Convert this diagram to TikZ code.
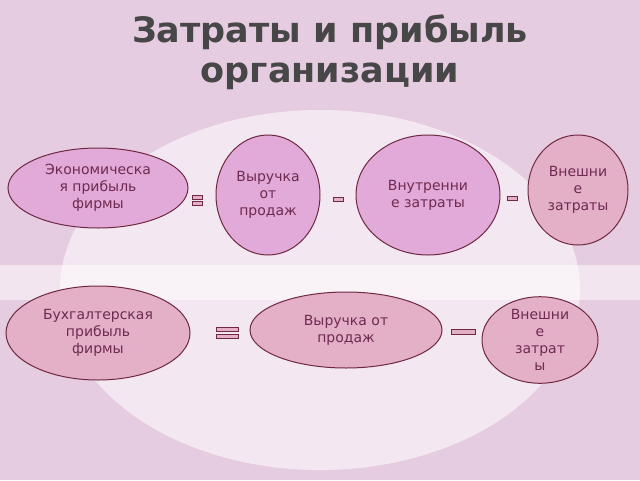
\documentclass[tikz,border=0pt]{standalone}
\usepackage{fontspec}
\setmainfont{DejaVu Sans}
\definecolor{bgpink}{HTML}{E6CCE0}
\definecolor{violetfill}{HTML}{E2AAD8}
\definecolor{rosefill}{HTML}{E4B0C8}
\definecolor{rimcol}{HTML}{6E2840}
\definecolor{txtcol}{HTML}{6E2A50}
\tikzset{
  blob/.style={ellipse, draw=rimcol, line width=1pt, text=txtcol, align=center,
    inner sep=0pt, font=\fontsize{14}{17}\selectfont},
  opbar/.style={draw=rimcol, fill=rosefill, line width=0.8pt}
}
\usetikzlibrary{shapes.geometric}
\begin{document}
\begin{tikzpicture}[x=1pt,y=-1pt]
% background
\fill[bgpink] (0,0) rectangle (640,480);
\fill[white,opacity=0.55] (320,290) ellipse (260 and 180);
\fill[white,opacity=0.5] (0,265) rectangle (640,300);
\useasboundingbox (0,0) rectangle (640,480);
% title
\node[font=\bfseries\fontsize{35}{40}\selectfont, text=black!72, align=center] (title) at (330,52)
  {Затраты и прибыль\\организации};
% top row
\node[blob, fill=violetfill, minimum width=180, minimum height=80] (eco) at (98,188) {Экономическа\\я прибыль\\фирмы};
\node[blob, fill=violetfill, minimum width=104, minimum height=120] (rev) at (268,195) {Выручка\\от\\продаж};
\node[blob, fill=violetfill, minimum width=144, minimum height=120] (inner) at (428,195) {Внутренни\\е затраты};
\node[blob, fill=rosefill, minimum width=100, minimum height=110] (outer) at (578,190) {Внешни\\е\\затраты};
% bottom row
\node[blob, fill=rosefill, minimum width=184, minimum height=94] (acc) at (98,333) {Бухгалтерская\\прибыль\\фирмы};
\node[blob, fill=rosefill, minimum width=192, minimum height=76] (rev2) at (346,330) {Выручка от\\продаж};
\node[blob, fill=rosefill, minimum width=116, minimum height=86] (outer2) at (540,340) {Внешни\\е\\затрат\\ы};
% signs
\draw[opbar] (192,195) rectangle (202,199);
\draw[opbar] (192,201) rectangle (202,205);
\draw[opbar] (333,197) rectangle (343,201);
\draw[opbar] (507,196) rectangle (517,200);
\draw[opbar] (216,327) rectangle (238,331);
\draw[opbar] (216,334) rectangle (238,338);
\draw[opbar] (451,329) rectangle (475,334);
\end{tikzpicture}
\end{document}
